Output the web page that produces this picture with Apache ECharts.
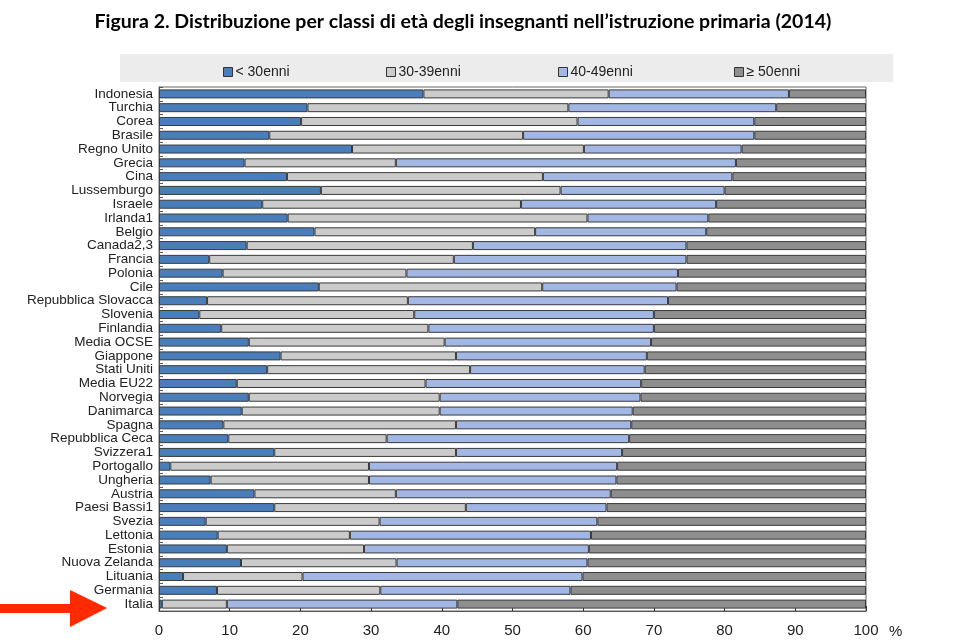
<!DOCTYPE html>
<html>
<head>
<meta charset="utf-8">
<script src="https://cdn.jsdelivr.net/npm/echarts@6/dist/echarts.min.js"></script>
<style>
html,body{margin:0;padding:0;background:#fff;}
#c{width:960px;height:643px;}
</style>
</head>
<body>
<div id="c"></div>
<script>
var categories = ['Indonesia','Turchia','Corea','Brasile','Regno Unito','Grecia','Cina','Lussemburgo','Israele','Irlanda1','Belgio','Canada2,3','Francia','Polonia','Cile','Repubblica Slovacca','Slovenia','Finlandia','Media OCSE','Giappone','Stati Uniti','Media EU22','Norvegia','Danimarca','Spagna','Repubblica Ceca','Svizzera1','Portogallo','Ungheria','Austria','Paesi Bassi1','Svezia','Lettonia','Estonia','Nuova Zelanda','Lituania','Germania','Italia'];
var seriesNames = ['< 30enni','30-39enni','40-49enni','\u2265 50enni'];
var under30 = [37.4,21.0,20.1,15.6,27.3,12.1,18.1,22.9,14.6,18.2,22.0,12.4,7.1,9.0,22.6,6.8,5.7,8.8,12.7,17.2,15.3,11.0,12.7,11.7,9.1,9.8,16.3,1.6,7.3,13.5,16.3,6.6,8.3,9.6,11.6,3.4,8.2,0.4];
var age30_39 = [26.2,36.9,39.1,35.9,32.8,21.4,36.2,33.9,36.6,42.4,31.2,32.0,34.6,26.0,31.6,28.4,30.4,29.3,27.7,24.8,28.7,26.7,27.0,28.0,32.9,22.4,25.7,28.1,22.4,20.0,27.1,24.6,18.7,19.4,22.0,16.9,23.1,9.2];
var age40_49 = [25.5,29.4,25.0,32.7,22.3,48.1,26.8,23.2,27.6,17.1,24.2,30.2,32.9,38.4,19.0,36.8,33.9,31.9,29.2,27.0,24.7,30.5,28.4,27.3,24.8,34.3,23.5,35.1,35.0,30.4,19.9,30.8,34.1,31.8,27.0,39.6,26.9,32.6];
var over50 = [10.9,12.7,15.8,15.8,17.6,18.4,18.9,20.0,21.2,22.3,22.6,25.4,25.4,26.6,26.8,28.0,30.0,30.0,30.4,31.0,31.3,31.8,31.9,33.0,33.2,33.5,34.5,35.2,35.3,36.1,36.7,38.0,38.9,39.2,39.4,40.1,41.8,57.8];
var xTicks = [0,10,20,30,40,50,60,70,80,90,100];

var colors = ['#4a7ebb','#cbcbcb','#a2b7e3','#8e8e8e'];
var lab = "'Liberation Sans',Arial,sans-serif";

var chart = echarts.init(document.getElementById('c'));
var seriesData = [under30, age30_39, age40_49, over50];
var series = seriesData.map(function(d,i){
  return {
    name: seriesNames[i], type:'bar', stack:'total', data:d, barWidth:9,
    itemStyle:{color:colors[i], borderColor:'#3a3a3a', borderWidth:1},
    emphasis:{disabled:true}, animation:false
  };
});
var legendLefts = [218, 381, 553, 729];
var legends = seriesNames.map(function(n,i){
  return {
    data:[n], left:legendLefts[i], top:60, itemWidth:9, itemHeight:9, itemGap:0,
    icon:'rect', selectedMode:false,
    itemStyle:{borderColor:'#333', borderWidth:1},
    textStyle:{fontFamily:lab, fontSize:14, color:'#222', padding:[0,0,0,-2]}
  };
});

chart.setOption({
  animation:false,
  backgroundColor:'#fff',
  graphic:[
    {type:'text', x:463, y:22, z:10,
     style:{text:'Figura 2. Distribuzione per classi di et\u00e0 degli insegnanti nell\u2019istruzione primaria (2014)',
            fontFamily:'Lato', fontWeight:'bold', fontSize:19.5, fill:'#000', align:'center', verticalAlign:'middle'}},
    {type:'rect', shape:{x:120, y:54, width:773, height:28}, style:{fill:'#ececec'}, z:-1},
    {type:'text', x:889, y:624, style:{text:'%', fontFamily:lab, fontSize:15, fill:'#222'}},
    {type:'polygon', shape:{points:[[0,604],[70,604],[70,590],[107,608],[70,627],[70,613],[0,613]]}, style:{fill:'#ff2a00'}, z:10}
  ],
  legend: legends,
  grid:{left:159, right:94, top:87, bottom:32, show:true, borderColor:'#666', borderWidth:1, backgroundColor:'#fff'},
  xAxis:{
    type:'value', min:0, max:100, interval:10,
    axisLine:{show:true, lineStyle:{color:'#555'}},
    axisTick:{show:true, inside:true, length:5, lineStyle:{color:'#333'}},
    splitLine:{show:false},
    axisLabel:{fontFamily:lab, fontSize:15, color:'#222', margin:12,
      formatter:function(v){ return xTicks.indexOf(v)>=0 ? String(v) : ''; }}
  },
  yAxis:{
    type:'category', data:categories, inverse:true,
    axisLine:{show:true, lineStyle:{color:'#555'}},
    axisTick:{show:true, inside:true, length:4, interval:0, lineStyle:{color:'#555'}},
    axisLabel:{fontFamily:lab, fontSize:13.5, color:'#222', margin:6, interval:0, hideOverlap:false},
    splitLine:{show:false}
  },
  series: series
});
</script>
</body>
</html>
